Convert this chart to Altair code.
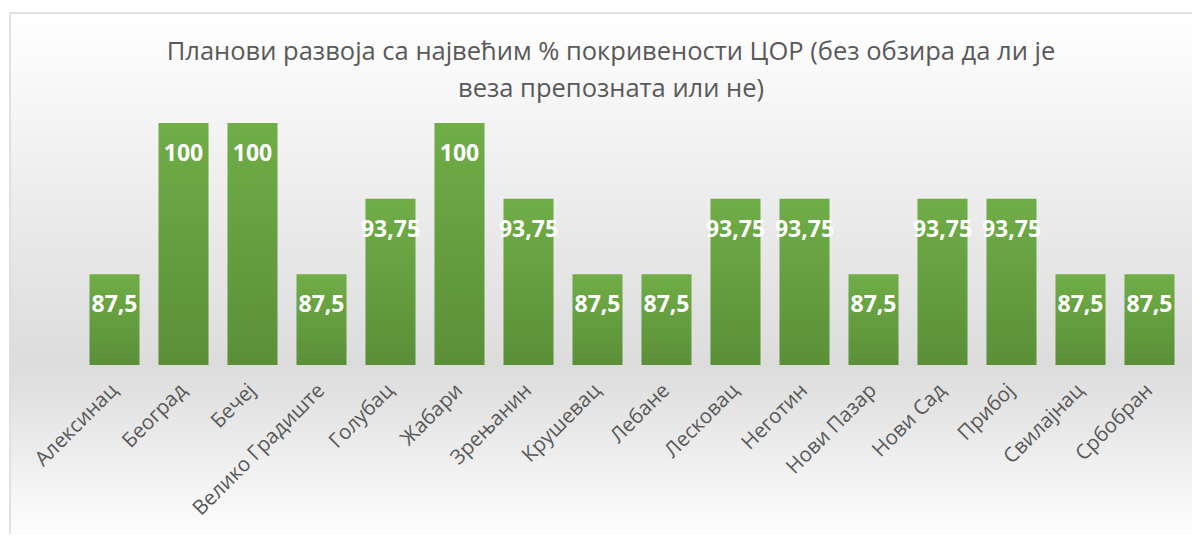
import altair as alt
import pandas as pd

cities = ["Алексинац", "Београд", "Бечеј", "Велико Градиште", "Голубац", "Жабари",
          "Зрењанин", "Крушевац", "Лебане", "Лесковац", "Неготин", "Нови Пазар",
          "Нови Сад", "Прибој", "Свилајнац", "Србобран"]
values = [87.5, 100, 100, 87.5, 93.75, 100, 93.75, 87.5, 87.5, 93.75, 93.75, 87.5,
          93.75, 93.75, 87.5, 87.5]
labels = ["87,5", "100", "100", "87,5", "93,75", "100", "93,75", "87,5", "87,5", "93,75",
          "93,75", "87,5", "93,75", "93,75", "87,5", "87,5"]
title_lines = ["Планови развоја са највећим % покривености ЦОР (без обзира да ли је",
               "веза препозната или не)"]
axis_min = 80
axis_max = 100

df = pd.DataFrame({"city": cities, "value": values, "label": labels, "base": [axis_min] * len(cities)})

W, H = 1104, 242
FONT = "Open Sans"
GRAY = "#595959"

xenc = alt.X("city:N", sort=cities, title=None,
             scale=alt.Scale(paddingInner=0.275, paddingOuter=0.1375),
             axis=alt.Axis(labelAngle=-45, labelAlign="right", labelBaseline="middle",
                           labelFontSize=20.5, labelFont=FONT, labelColor=GRAY,
                           labelPadding=22, domain=False, ticks=False, grid=False, zindex=1))
yscale = alt.Scale(domain=[axis_min, axis_max], zero=False, nice=False)

dummy = pd.DataFrame({"k": [0]})

bg = alt.Chart(dummy).mark_rect(
    fill=alt.Gradient(gradient="linear", x1=0, x2=0, y1=0, y2=1,
                      stops=[alt.GradientStop(offset=0, color="#ffffff"),
                             alt.GradientStop(offset=0.66, color="#dcdcdc"),
                             alt.GradientStop(offset=1, color="#ffffff")]),
    stroke="#d9d9d9", strokeWidth=1.5
).encode(x=alt.value(-70), x2=alt.value(W + 40), y=alt.value(-110), y2=alt.value(H + 180))

bars = alt.Chart(df).mark_bar(
    color=alt.Gradient(gradient="linear", x1=0, x2=0, y1=0, y2=1,
                       stops=[alt.GradientStop(offset=0, color="#70ad47"),
                              alt.GradientStop(offset=1, color="#5a8f38")]),
    cornerRadius=0
).encode(x=xenc, y=alt.Y("value:Q", scale=yscale, axis=None), y2="base:Q")

text = alt.Chart(df).mark_text(
    color="white", font=FONT, fontWeight="bold", fontSize=23, baseline="middle", dy=31
).encode(x=alt.X("city:N", sort=cities), y=alt.Y("value:Q", scale=yscale), text="label:N")

t1 = alt.Chart(pd.DataFrame({"t": [title_lines[0]]})).mark_text(
    font=FONT, fontSize=25.5, color=GRAY, align="center", baseline="alphabetic"
).encode(text="t:N", x=alt.value(531), y=alt.value(-63))
t2 = alt.Chart(pd.DataFrame({"t": [title_lines[1]]})).mark_text(
    font=FONT, fontSize=25.5, color=GRAY, align="center", baseline="alphabetic"
).encode(text="t:N", x=alt.value(531), y=alt.value(-26))

chart = alt.layer(bg, bars, text, t1, t2).properties(
    width=W, height=H,
    autosize=alt.AutoSizeParams(type="none"),
    padding={"left": 72, "top": 115, "right": 8, "bottom": 169},
).configure_view(stroke=None)

chart.save("out.html", embed_options={"renderer": "svg", "actions": False})
